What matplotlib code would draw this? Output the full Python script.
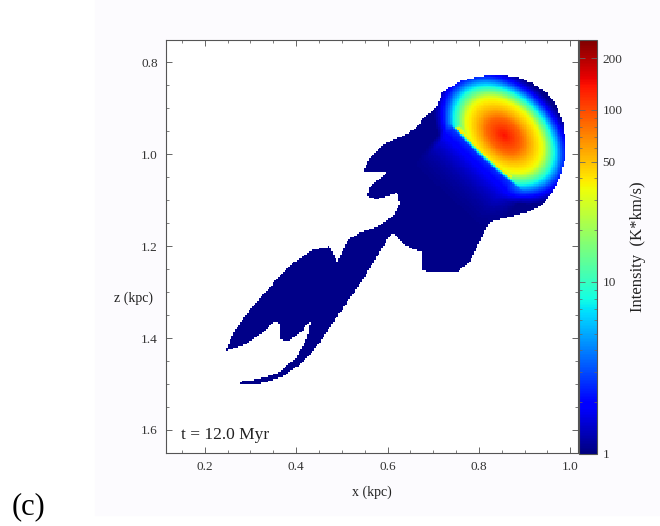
import numpy as np
import matplotlib
matplotlib.use('Agg')
import matplotlib.pyplot as plt
from matplotlib.path import Path
from matplotlib.colors import LogNorm
from matplotlib.ticker import MultipleLocator, NullFormatter

# cloud outline in kpc, traced from the upper-left of the head, clockwise on screen
outline_x = [0.720, 0.757, 0.795, 0.838, 0.882, 0.917, 0.948, 0.969, 0.983, 0.989,
             0.987, 0.976, 0.961, 0.939, 0.904, 0.867, 0.823,
             0.795, 0.779, 0.751, 0.714, 0.692, 0.677, 0.677,
             0.642, 0.626, 0.611, 0.598, 0.576, 0.545, 0.510, 0.480, 0.451, 0.414,
             0.370, 0.314, 0.272, 0.277, 0.314, 0.364, 0.401, 0.423, 0.430, 0.408,
             0.379, 0.364, 0.360, 0.349, 0.327, 0.287, 0.244, 0.261, 0.298, 0.342,
             0.392, 0.436, 0.473, 0.488, 0.513, 0.539, 0.576, 0.611, 0.626, 0.620,
             0.576, 0.554, 0.561, 0.598, 0.561, 0.545, 0.561, 0.589, 0.637, 0.663,
             0.674, 0.707]
outline_z = [0.865, 0.843, 0.833, 0.828, 0.833, 0.846, 0.867, 0.893, 0.930, 0.974,
             1.017, 1.052, 1.083, 1.111, 1.128, 1.137, 1.148,
             1.202, 1.237, 1.257, 1.259, 1.259, 1.252, 1.215,
             1.202, 1.187, 1.172, 1.187, 1.224, 1.274, 1.324, 1.367, 1.411, 1.454,
             1.485, 1.502, 1.502, 1.496, 1.491, 1.476, 1.441, 1.398, 1.365, 1.389,
             1.409, 1.404, 1.367, 1.365, 1.389, 1.415, 1.430, 1.389, 1.339, 1.289,
             1.237, 1.209, 1.202, 1.235, 1.187, 1.172, 1.159, 1.137, 1.107, 1.085,
             1.100, 1.093, 1.072, 1.041, 1.039, 1.041, 1.007, 0.980, 0.959, 0.943,
             0.926, 0.898]

# bright head: centre, ellipse half axes (kpc) and tilt (deg)
head_x, head_z = 0.855, 0.960
head_a, head_b = 0.175, 0.122
head_tilt = 43.0
# intensity read across the head against normalised radius
profile_s = [0.0, 0.25, 0.38, 0.55, 0.63, 0.72, 0.83, 0.93, 1.0]
profile_I = [140, 85, 54, 33, 16, 7.7, 3, 1.5, 1.1]
# sharp front on the lower-left of the head
front_x = [0.745, 0.873]
front_z = [0.941, 1.058]
front_I = 40
halo_I = 3.0
body_I = 1.05

vmin, vmax = 1, 255
x_range = (0.115, 1.017)
z_range = (0.752, 1.650)

# build the map
n = 240
xs = np.linspace(x_range[0], x_range[1], n)
zs = np.linspace(z_range[0], z_range[1], n)
X, Z = np.meshgrid(xs, zs)

cloud = Path(np.column_stack([outline_x, outline_z]))
inside = cloud.contains_points(np.column_stack([X.ravel(), Z.ravel()])).reshape(X.shape)

th = np.radians(head_tilt)
du, dz = X - head_x, Z - head_z
u = du * np.cos(th) + dz * np.sin(th)
v = -du * np.sin(th) + dz * np.cos(th)
s = np.sqrt((u / head_a) ** 2 + (v / head_b) ** 2)
log_blob = np.interp(s, profile_s, np.log10(profile_I), right=np.log10(body_I))

lx, lz = front_x[1] - front_x[0], front_z[1] - front_z[0]
llen = np.hypot(lx, lz)
px, pz = X - front_x[0], Z - front_z[0]
t = (px * lx + pz * lz) / llen ** 2
d = (-px * lz + pz * lx) / llen  # > 0 on the lower-left side

ridge_w = np.clip((t + 0.05) / 0.1, 0, 1) * np.clip((1.05 - t) / 0.1, 0, 1)
log_ridge = np.log10(front_I) * np.exp(-(d / 0.02) ** 2) * ridge_w
log_in = np.maximum(log_blob, np.where(d < 0, log_ridge, 0))

cut_w = np.clip((t + 0.08) / 0.08, 0, 1) * np.clip((1.25 - t) / 0.25, 0, 1)
dd = np.maximum(d, 0)
log_cut = log_in * np.exp(-dd / 0.008)
log_halo = np.log10(1 + (halo_I - 1) * np.exp(-dd / 0.035))
log_out = np.maximum(log_cut, log_halo)
log_I = np.where(d > 0, cut_w * log_out + (1 - cut_w) * log_blob, log_in)
log_I = np.maximum(log_I, np.log10(body_I))

I = np.ma.masked_where(~inside, 10 ** log_I)

plt.rcParams['font.family'] = ['Liberation Serif', 'DejaVu Serif']

fig = plt.figure(figsize=(6.6, 5.26), dpi=100)
fig.patches.append(plt.Rectangle((95 / 660, 11 / 526), 1, 1, transform=fig.transFigure,
                                 color='#fcfbfe', zorder=-10))
ax = fig.add_axes([0.2515, 0.1388, 0.6243, 0.7852])
im = ax.imshow(I, extent=(x_range[0], x_range[1], z_range[1], z_range[0]), origin='upper',
               cmap='jet', norm=LogNorm(vmin, vmax), interpolation='nearest', aspect='auto')
ax.set_xlim(x_range)
ax.set_ylim(z_range[1], z_range[0])
ax.set_facecolor('white')

ax.xaxis.set_major_locator(MultipleLocator(0.2))
ax.xaxis.set_minor_locator(MultipleLocator(0.05))
ax.yaxis.set_major_locator(MultipleLocator(0.2))
ax.yaxis.set_minor_locator(MultipleLocator(0.05))
ax.xaxis.set_major_formatter(plt.FuncFormatter(lambda val, pos: f'{val:.1f}'))
ax.yaxis.set_major_formatter(plt.FuncFormatter(lambda val, pos: f'{val:.1f}'))
ax.tick_params(which='both', direction='in', top=True, right=True, color='#666666',
               labelsize=9.5, labelcolor='#333333')
ax.tick_params(which='major', length=4, width=0.7, pad=6)
ax.tick_params(which='minor', length=2, width=0.6)
for sp in ax.spines.values():
    sp.set_color('#555555')
    sp.set_linewidth(0.8)

ax.set_xlabel('x (kpc)', fontsize=10, color='#222222', labelpad=9)
fig.text(133 / 660, 1 - 298 / 526, 'z (kpc)', fontsize=10, color='#222222',
         ha='center', va='center')
ax.text(0.148, 1.610, 't = 12.0 Myr', fontsize=12.5, color='#222222', va='center')

cax = fig.add_axes([0.8773, 0.1369, 0.0273, 0.7871])
cb = fig.colorbar(im, cax=cax)
cb.set_ticks([1, 10, 50, 100, 200])
cb.set_ticklabels(['1', '10', '50', '100', '200'])
cb.ax.yaxis.set_minor_formatter(NullFormatter())
cb.ax.tick_params(which='both', direction='in', left=True, right=True, color='#666666',
                  labelsize=9.5, labelcolor='#333333')
cb.ax.tick_params(which='major', length=4, width=0.6, pad=4)
cb.ax.tick_params(which='minor', length=2, width=0.5)
cb.outline.set_edgecolor('#555555')
cb.outline.set_linewidth(0.8)
cb.set_label('Intensity  (K*km/s)', fontsize=12, color='#222222', labelpad=5)

fig.text(12 / 660, 1 - 507 / 526, '(c)', fontsize=22, color='black', va='center', ha='left')

fig.savefig('out.png', dpi=100)
